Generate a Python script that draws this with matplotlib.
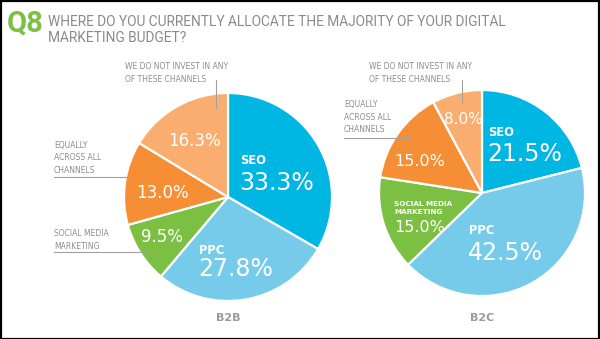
import matplotlib
matplotlib.use("Agg")
import matplotlib.pyplot as plt
from matplotlib import font_manager
from matplotlib.font_manager import FontProperties
from matplotlib.patches import Rectangle

# ---- data ----
channels = ["SEO", "PPC", "SOCIAL MEDIA MARKETING", "EQUALLY ACROSS ALL CHANNELS",
            "WE DO NOT INVEST IN ANY OF THESE CHANNELS"]
b2b_values = [33.3, 27.8, 9.5, 13.0, 16.3]
b2c_values = [21.5, 42.5, 15.0, 15.0, 8.0]
segments = ["B2B", "B2C"]
title_tag = "Q8"
title_text = "WHERE DO YOU CURRENTLY ALLOCATE THE MAJORITY OF YOUR DIGITAL\nMARKETING BUDGET?"

colors = ["#00b6e2", "#76cbeb", "#7bbf43", "#f68e35", "#f9ae70"]

W, H = 600, 339


def pick_font(candidates):
    for name in candidates:
        try:
            font_manager.findfont(FontProperties(family=name), fallback_to_default=False)
            return name
        except Exception:
            continue
    return "DejaVu Sans"


head_font = pick_font(["Liberation Sans Narrow", "Roboto", "Liberation Sans"])
plt.rcParams["font.family"] = ["DejaVu Sans"]

fig = plt.figure(figsize=(W / 100, H / 100), dpi=100)
ax = fig.add_axes([0, 0, 1, 1])


def Y(y):
    # convert from top-down pixel rows to axis units
    return H - y


def pct(v):
    return f"{v:.1f}%"


# ---- pies ----
pies = [
    dict(values=b2b_values, center=(228, 197), radius=104),
    dict(values=b2c_values, center=(482, 193), radius=103),
]
for p in pies:
    cx, cy = p["center"]
    ax.pie(p["values"], colors=colors, startangle=90, counterclock=False,
           center=(cx, Y(cy)), radius=p["radius"], normalize=True,
           wedgeprops=dict(edgecolor="white", linewidth=1.6))

ax.set_xlim(0, W)
ax.set_ylim(0, H)
ax.set_aspect("equal")
ax.axis("off")

gray = "#8d8d8d"
white = "white"
big, mid, tag = 17, 12, 8.3

# ---- in-slice labels: B2B ----
ax.text(240, Y(160), "SEO", color=white, fontsize=tag, fontweight="bold", ha="left", va="center")
ax.text(239, Y(183), pct(b2b_values[0]), color=white, fontsize=big, ha="left", va="center")
ax.text(199, Y(250), "PPC", color=white, fontsize=tag, fontweight="bold", ha="left", va="center")
ax.text(198, Y(269), pct(b2b_values[1]), color=white, fontsize=big, ha="left", va="center")
ax.text(162, Y(237), pct(b2b_values[2]), color=white, fontsize=mid, ha="center", va="center")
ax.text(162, Y(193), pct(b2b_values[3]), color=white, fontsize=mid, ha="center", va="center")
ax.text(194, Y(141), pct(b2b_values[4]), color=white, fontsize=mid, ha="center", va="center")

# ---- in-slice labels: B2C ----
ax.text(488, Y(132), "SEO", color=white, fontsize=tag, fontweight="bold", ha="left", va="center")
ax.text(487, Y(154), pct(b2c_values[0]), color=white, fontsize=big, ha="left", va="center")
ax.text(469, Y(231), "PPC", color=white, fontsize=tag, fontweight="bold", ha="left", va="center")
ax.text(468, Y(253), pct(b2c_values[1]), color=white, fontsize=big, ha="left", va="center")
ax.text(394, Y(208), "SOCIAL MEDIA\nMARKETING", color=white, fontsize=5.2, fontweight="bold",
        ha="left", va="center", linespacing=1.4)
ax.text(394, Y(228), pct(b2c_values[2]), color=white, fontsize=11.5, ha="left", va="center")
ax.text(420, Y(162), pct(b2c_values[3]), color=white, fontsize=11.5, ha="center", va="center")
ax.text(463, Y(119), pct(b2c_values[4]), color=white, fontsize=11, ha="center", va="center")

# ---- outside annotations ----
note_kw = dict(color=gray, fontsize=5.5, ha="left", va="center", linespacing=1.45)
line_kw = dict(color="#a0a0a0", linewidth=0.8)

ax.text(125, Y(73), "WE DO NOT INVEST IN ANY\nOF THESE CHANNELS", **note_kw)
ax.plot([216, 216], [Y(80), Y(108)], **line_kw)
ax.text(54, Y(158), "EQUALLY\nACROSS ALL\nCHANNELS", **note_kw)
ax.plot([54, 146], [Y(177), Y(177)], **line_kw)
ax.text(54, Y(240), "SOCIAL MEDIA\nMARKETING", **note_kw)
ax.plot([54, 146], [Y(252), Y(252)], **line_kw)

ax.text(369, Y(73), "WE DO NOT INVEST IN ANY\nOF THESE CHANNELS", **note_kw)
ax.plot([462, 462], [Y(80), Y(102)], **line_kw)
ax.text(344, Y(117), "EQUALLY\nACROSS ALL\nCHANNELS", **note_kw)
ax.plot([344, 411], [Y(138), Y(138)], **line_kw)

# ---- segment labels ----
for (p, name) in zip(pies, segments):
    ax.text(p["center"][0], Y(318), name, color="#9a9a9a", fontsize=8,
            fontweight="bold", ha="center", va="center")

# ---- title ----
ax.text(7, Y(24), title_tag, color="#7bbf43", fontsize=21, fontweight="bold",
        ha="left", va="center", family=[head_font, "DejaVu Sans"])
title = ax.text(48, Y(30), title_text, color="#8a8a8a", fontsize=11.3, ha="left",
                va="center", linespacing=1.25, family=[head_font, "DejaVu Sans"])

# size the heading so its longest line spans the intended width
renderer = fig.canvas.get_renderer()
title_width_px = 462
for _ in range(3):
    w = title.get_window_extent(renderer).width
    title.set_fontsize(title.get_fontsize() * title_width_px / w)

# ---- frame ----
ax.add_patch(Rectangle((0.5, 0.5), W - 1.5, H - 1.5, fill=False, edgecolor="black",
                       linewidth=1.6, clip_on=False))

fig.savefig("out.png", dpi=100)
